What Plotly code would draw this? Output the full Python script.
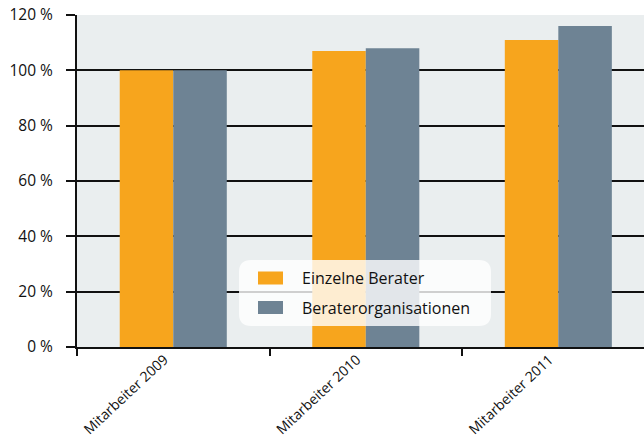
import plotly.graph_objects as go

categories = ["Mitarbeiter 2009", "Mitarbeiter 2010", "Mitarbeiter 2011"]
einzelne = [100, 107, 111]
organisationen = [100, 108, 116]
series_names = ["Einzelne Berater", "Beraterorganisationen"]
series_colors = ["#f7a51d", "#6e8394"]
tick_vals = [0, 20, 40, 60, 80, 100, 120]
tick_text = ["0 %", "20 %", "40 %", "60 %", "80 %", "100 %", "120 %"]

W, H = 644, 438
ML, MR, MT, MB = 77, 0, 15, 91
PW, PH = W - ML - MR, H - MT - MB

def px2paper(x, y):
    return (x - ML) / PW, (H - MB - y) / PH

fig = go.Figure()
for vals, name, col in zip([einzelne, organisationen], series_names, series_colors):
    fig.add_trace(go.Bar(x=categories, y=vals, name=name,
                         marker=dict(color=col, line=dict(width=0))))

# rounded legend backdrop
x0, y0, x1, y1, r = 239, 260, 491, 326, 12
def P(x, y):
    a, b = px2paper(x, y)
    return f"{a:.5f},{b:.5f}"
path = (f"M {P(x0+r,y0)} L {P(x1-r,y0)} Q {P(x1,y0)} {P(x1,y0+r)} "
        f"L {P(x1,y1-r)} Q {P(x1,y1)} {P(x1-r,y1)} "
        f"L {P(x0+r,y1)} Q {P(x0,y1)} {P(x0,y1-r)} "
        f"L {P(x0,y0+r)} Q {P(x0,y0)} {P(x0+r,y0)} Z")
fig.add_shape(type="path", path=path, xref="paper", yref="paper",
              fillcolor="rgba(255,255,255,0.80)", line=dict(width=0), layer="above")

# custom legend entries
rows_y = [278, 307.5]
for name, col, yc in zip(series_names, series_colors, rows_y):
    ax0, ay0 = px2paper(258, yc - 6.5)
    ax1, ay1 = px2paper(283, yc + 6.5)
    fig.add_shape(type="rect", xref="paper", yref="paper",
                  x0=ax0, x1=ax1, y0=ay1, y1=ay0,
                  fillcolor=col, line=dict(width=0), layer="above")
    tx, ty = px2paper(300, yc)
    fig.add_annotation(x=tx, y=ty, xref="paper", yref="paper", text=name,
                       showarrow=False, xanchor="left", yanchor="middle",
                       font=dict(size=16, color="#111"))

fig.update_layout(
    width=W, height=H,
    margin=dict(l=ML, r=MR, t=MT, b=MB, pad=0, autoexpand=False),
    paper_bgcolor="white", plot_bgcolor="#eaeeef",
    font=dict(family="Open Sans", size=16, color="#111"),
    barmode="group", bargap=0.444, bargroupgap=0,
    showlegend=False,
    xaxis=dict(type="category", range=[-0.5, 2.445], showgrid=False,
               automargin=False,
               showline=True, linecolor="#111", linewidth=2,
               ticks="outside", tickson="boundaries", ticklen=7, tickwidth=2,
               tickcolor="#111", tickangle=-43, tickfont=dict(size=14),
               ticklabelstandoff=-3, ticklabelshift=-9),
    yaxis=dict(range=[0, 120], tickvals=tick_vals, ticktext=tick_text,
               automargin=False,
               showgrid=True, gridcolor="#111", gridwidth=2,
               showline=True, linecolor="#111", linewidth=2,
               zeroline=False, ticklabelstandoff=10,
               ticks="outside", ticklen=9, tickwidth=2, tickcolor="#111",
               tickfont=dict(size=15.5)),
)
fig.write_html("out.html", config={"displayModeBar": False},
               post_script="document.body.style.margin='0';")
